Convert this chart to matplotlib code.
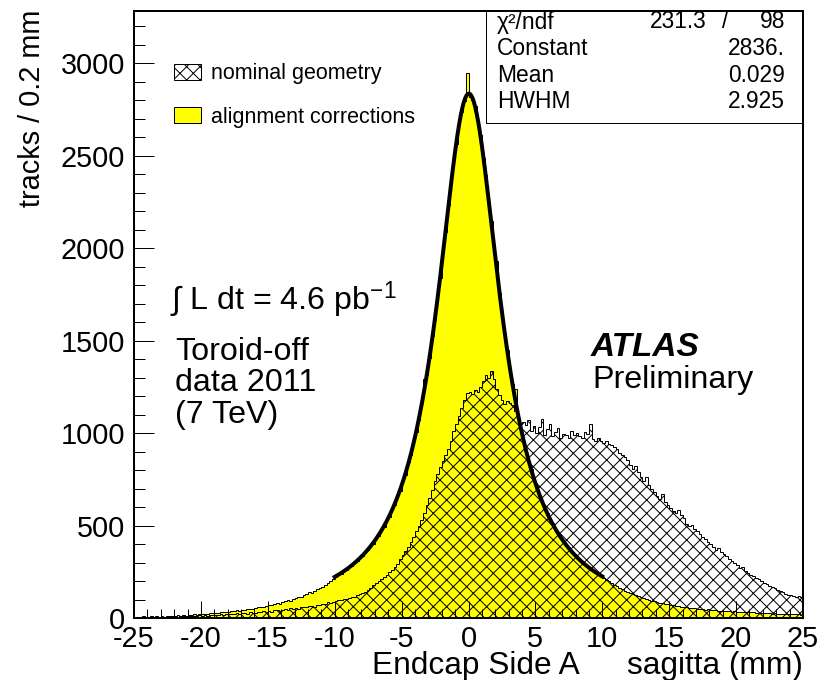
import numpy as np
import matplotlib
matplotlib.use("Agg")
import matplotlib.pyplot as plt
from matplotlib.patches import Rectangle
from matplotlib.ticker import MultipleLocator
from matplotlib.transforms import ScaledTranslation

# ---------------- data ----------------
bin_lo, bin_hi, n_bins = -25.0, 25.0, 250   # 0.2 mm bins

# "alignment corrections" histogram (tracks / 0.2 mm), bins from -25 to 25
align = [
    5, 8, 4, 9, 6,   7, 11, 6, 9, 8,   10, 7, 12, 9, 13,   11, 14, 10, 15, 13,
    16, 14, 19, 17, 21,   20, 24, 22, 27, 25,   28, 26, 31, 33, 30,   34, 38, 36, 41, 39,
    44, 42, 48, 51, 47,   55, 58, 62, 60, 66,   70, 68, 76, 80, 78,   85, 90, 96, 93, 104,
    108, 115, 112, 124, 130,   138, 134, 148, 155, 160,   170, 178, 190, 200, 212,
    222, 240, 238, 258, 261,   279, 281, 305, 306, 331,   334, 362, 366, 396, 402,
    436, 444, 480, 492, 533,   548, 594, 612, 664, 688,   745, 776, 842, 880, 955,
    1005, 1072, 1165, 1290, 1315,   1405, 1525, 1610, 1745, 1840,
    1985, 2090, 2235, 2340, 2475,   2565, 2680, 2735, 2795, 2950,
    2820, 2800, 2770, 2680, 2610,   2490, 2395, 2250, 2145, 2000,
    1930, 1760, 1660, 1535, 1450,   1340, 1265, 1240, 1095, 1025,
    960, 910, 842, 805, 745,   712, 660, 635, 590, 568,   530, 512, 476, 460, 430,
    418, 390, 380, 356, 347,   325, 318, 298, 293, 274,   270, 252, 249, 234, 226,
    215, 205, 198, 190, 178,   172, 160, 155, 148, 140,   134, 128, 122, 118, 112,
    106, 102, 97, 94, 90,   86, 82, 80, 76, 74,   71, 68, 66, 64, 61,
    60, 57, 55, 56, 52,   50, 49, 47, 45, 46,   44, 42, 43, 40, 39,
    38, 40, 36, 35, 37,   34, 33, 35, 31, 32,   30, 31, 28, 29, 27,
    27, 25, 26, 24, 25,   23, 22, 24, 21, 22,   20, 21, 19, 20, 18,
]

# "nominal geometry" histogram (tracks / 0.2 mm)
nominal = [
    3, 5, 2, 6, 4,   5, 3, 7, 4, 6,   6, 8, 5, 9, 7,   8, 6, 10, 9, 11,
    10, 13, 9, 12, 14,   13, 16, 12, 15, 18,   17, 14, 20, 18, 22,   21, 19, 24, 26, 22,
    25, 28, 24, 30, 27,   29, 33, 31, 36, 34,   38, 35, 41, 44, 40,   45, 48, 43, 52, 50,
    54, 51, 58, 62, 57,   63, 67, 61, 72, 70,   74, 78, 84, 80, 88,
    92, 98, 95, 104, 101,   108, 115, 112, 122, 128,   134, 142, 150, 163, 178,
    190, 198, 210, 222, 235,   248, 262, 275, 292, 318,   340, 362, 385, 410, 438,
    468, 500, 530, 568, 610,   648, 690, 740, 780, 815,   850, 880, 915, 960, 1010,
    1050, 1090, 1135, 1180, 1215,   1225, 1210, 1235, 1220, 1250,
    1280, 1315, 1300, 1335, 1290,   1240, 1205, 1180, 1160, 1175,
    1165, 1150, 1120, 1080, 1050,   1060, 1045, 1070, 1010, 1040,
    1000, 1035, 1075, 990, 1020,   1050, 985, 1005, 1030, 975,
    995, 990, 975, 1010, 990,   1000, 985, 975, 1005, 995,   1050, 970, 960, 975, 955,
    945, 960, 940, 935, 925,   915, 890, 880, 870, 855,   830, 805, 820, 790, 760,
    740, 765, 720, 700, 680,   660, 645, 670, 630, 610,   595, 580, 570, 585, 555,
    540, 510, 495, 505, 480,   470, 455, 440, 425, 410,   400, 385, 370, 380, 355,
    345, 335, 320, 310, 300,   285, 270, 275, 255, 245,   235, 225, 215, 210, 200,
    190, 182, 175, 165, 160,   150, 145, 138, 130, 126,   122, 118, 115, 120, 112,
]

# Breit-Wigner fit result shown in the stats box, fitted on [-10, 10]
fit_const, fit_mean, fit_hwhm = 2836.0, 0.029, 2.925
fit_range = (-10.0, 10.0)
stat_labels = ["Constant", "Mean", "HWHM"]
stat_values = ["2836.", "0.029", "2.925"]
chi2_text, ndf_text = "231.3", "98"

x_ticks = [-25, -20, -15, -10, -5, 0, 5, 10, 15, 20, 25]
y_max = 3283

# ---------------- style ----------------
plt.rcParams["font.family"] = ["Liberation Sans", "DejaVu Sans"]
plt.rcParams["mathtext.fontset"] = "custom"
plt.rcParams["mathtext.rm"] = "Liberation Sans"
plt.rcParams["mathtext.it"] = "Liberation Sans:italic"
plt.rcParams["axes.unicode_minus"] = False
plt.rcParams["hatch.linewidth"] = 0.9

W, H, DPI = 822, 680, 80
def fx(x):
    return x / W
def fy(y):
    return 1 - y / H

fig = plt.figure(figsize=(W / DPI, H / DPI), dpi=DPI)
fig.patch.set_facecolor("white")
ax = fig.add_axes([fx(134), fy(618), (803 - 134) / W, (618 - 11) / H])

edges = np.linspace(bin_lo, bin_hi, n_bins + 1)
ax.stairs(align, edges, fill=True, facecolor="#ffff00", edgecolor="black",
          linewidth=0.9, zorder=1)
ax.stairs(nominal, edges, fill=True, facecolor="none", edgecolor="black",
          hatch="xx", linewidth=0.9, zorder=1.5)

xf = np.linspace(fit_range[0], fit_range[1], 500)
yf = fit_const / (1 + ((xf - fit_mean) / fit_hwhm) ** 2)
ax.plot(xf, yf, color="black", lw=3.6, zorder=2, solid_joinstyle="round")

ax.set_xlim(bin_lo, bin_hi)
ax.set_ylim(0, y_max)
ax.set_xticks(x_ticks)
ax.set_xticklabels([str(t) for t in x_ticks])
ax.xaxis.set_minor_locator(MultipleLocator(1))
ax.yaxis.set_major_locator(MultipleLocator(500))
ax.yaxis.set_minor_locator(MultipleLocator(100))
ax.tick_params(which="both", direction="in", top=False, right=False,
               width=0.9, colors="black", labelsize=26)
ax.tick_params(axis="y", which="major", length=18, pad=8)
ax.tick_params(axis="y", which="minor", length=10)
ax.tick_params(axis="x", which="major", length=15, pad=6)
ax.tick_params(axis="x", which="minor", length=8)
for s in ax.spines.values():
    s.set_linewidth(1.8)
    s.set_zorder(3)

# nudge the "0" label on the y axis up a little so it clears the "-25" label
t0 = ax.yaxis.get_major_ticks()[0]
t0.label1.set_transform(t0.label1.get_transform()
                        + ScaledTranslation(0, 4 / DPI, fig.dpi_scale_trans))

# stats box
ax.add_patch(Rectangle((fx(486), fy(123)), (803 - 486) / W, (123 - 11) / H,
                       transform=fig.transFigure, facecolor="white",
                       edgecolor="black", lw=0.9, zorder=2.2))
fs_stat = 20.5
fig.text(fx(497), fy(28.5), "χ²/ndf", size=fs_stat, va="baseline")
fig.text(fx(707), fy(28.5), chi2_text, size=fs_stat, va="baseline", ha="right")
fig.text(fx(725), fy(28.5), "/", size=fs_stat, va="baseline", ha="center")
fig.text(fx(785), fy(28.5), ndf_text, size=fs_stat, va="baseline", ha="right")
for i, (lab, val) in enumerate(zip(stat_labels, stat_values)):
    yb = 55 + i * 26.7
    fig.text(fx(497), fy(yb), lab, size=fs_stat, va="baseline")
    fig.text(fx(785), fy(yb), val, size=fs_stat, va="baseline", ha="right")

# legend
ax.add_patch(Rectangle((fx(174), fy(80)), 27 / W, 16 / H, transform=fig.transFigure,
                       facecolor="white", edgecolor="black", hatch="xx", lw=0.9, zorder=2.2))
ax.add_patch(Rectangle((fx(174), fy(123)), 27 / W, 16 / H, transform=fig.transFigure,
                       facecolor="#ffff00", edgecolor="black", lw=0.9, zorder=2.2))
fig.text(fx(211), fy(78.5), "nominal geometry", size=19.4, va="baseline")
fig.text(fx(211), fy(122.5), "alignment corrections", size=19.4, va="baseline")

# annotations
fig.text(fx(170), fy(310), "∫ L dt = 4.6 pb$^{-1}$", size=29, va="baseline")
fig.text(fx(175), fy(360), "Toroid-off", size=29, va="baseline")
fig.text(fx(175), fy(391.5), "data 2011", size=29, va="baseline")
fig.text(fx(175), fy(423), "(7 TeV)", size=29, va="baseline")
fig.text(fx(591), fy(356), "ATLAS", size=30, va="baseline",
         fontweight="bold", fontstyle="italic")
fig.text(fx(592), fy(388), "Preliminary", size=29, va="baseline")

# axis titles
fig.text(fx(580), fy(674), "Endcap Side A", size=28.5, va="baseline", ha="right")
fig.text(fx(803), fy(674), "sagitta (mm)", size=28.5, va="baseline", ha="right")
fig.text(fx(32), fy(10), "tracks / 0.2 mm", size=26, rotation=90,
         ha="center", va="top")

fig.savefig("out.png", dpi=DPI, facecolor="white")
